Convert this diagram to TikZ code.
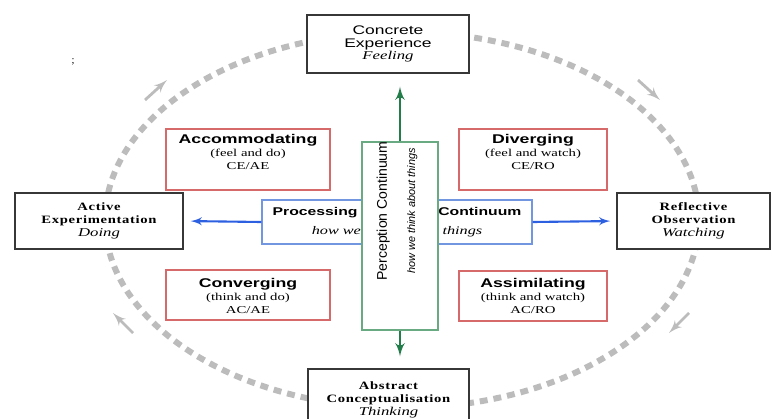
\documentclass[tikz,border=0pt]{standalone}
\usepackage{fontspec}
\setmainfont{Liberation Serif}
\newfontfamily\widesans[FakeStretch=1.4]{Liberation Sans}
\newfontfamily\wideserif[FakeStretch=1.4]{Liberation Serif}
\newfontfamily\spacedserif[FakeStretch=1.3,LetterSpace=6]{Liberation Serif}
\newfontfamily\plainsans{Liberation Sans}
\usetikzlibrary{shapes,arrows}

\definecolor{modegray}{RGB}{55,55,55}
\definecolor{stylered}{RGB}{214,105,105}
\definecolor{procblue}{RGB}{115,150,225}
\definecolor{arrowblue}{RGB}{45,95,225}
\definecolor{percgreen}{RGB}{105,170,130}
\definecolor{arrowgreen}{RGB}{35,125,75}
\definecolor{cyclegray}{RGB}{188,188,188}

\newcommand{\modetitle}{\widesans\fontsize{7.1}{7.3}\selectfont}
\newcommand{\modebold}{\spacedserif\bfseries\fontsize{6.4}{7.3}\selectfont}
\newcommand{\modeword}{\wideserif\mdseries\itshape\fontsize{6.8}{7.3}\selectfont}
\newcommand{\styletitle}{\widesans\bfseries\upshape\fontsize{7.2}{7.2}\selectfont}
\newcommand{\stylesub}{\wideserif\fontsize{6}{7.2}\selectfont}

\tikzstyle{mode} = [rectangle, draw=modegray, line width=0.8pt, fill=white,
align=center, inner sep=0pt, font=\modebold]
\tikzstyle{stylebox} = [rectangle, draw=stylered, line width=0.8pt, fill=white,
inner sep=0pt, minimum height=1.22cm]
\tikzstyle{styletext} = [align=center, inner sep=0pt, font=\stylesub]
\tikzstyle{procbox} = [rectangle, draw=procblue, line width=0.8pt, fill=white,
align=center, inner sep=0pt, minimum width=5.4cm, minimum height=0.88cm,
font=\wideserif\itshape\fontsize{6.6}{10.8}\selectfont]
\tikzstyle{percbox} = [rectangle, draw=percgreen, line width=0.8pt, fill=white,
inner sep=0pt, minimum width=1.52cm, minimum height=3.76cm]
\tikzstyle{line} = [draw, -latex']
\tikzstyle{cyclepath} = [draw=cyclegray, line width=3.4pt, dash pattern=on 4.5pt off 3.4pt]
\tikzstyle{turn} = [draw=cyclegray, line width=1.6pt, -latex']

\begin{document}
\begin{tikzpicture}[x=0.02cm, y=-0.02cm]
		\clip (0,0) rectangle (772,419);
		% learning cycle
		\draw[cyclepath] (402,220) ellipse [x radius=5.94cm, y radius=3.76cm];
		\draw[turn] (145,100) -- (167,80);
		\draw[turn] (638,80) -- (660,100);
		\draw[turn] (689,313) -- (669,333);
		\draw[turn] (133,333) -- (113,313);
		
		% the two continua
		\node [procbox] (proc) at (397,222) {{\styletitle\fontsize{6.4}{10.8}\selectfont Processing\hspace{46pt}Continuum}\\
			how we think about things};
		\node [percbox] (perc) at (400,236) {};
		\node [align=center, inner sep=0pt, rotate=90, font=\plainsans\fontsize{8}{14}\selectfont] (perctext) at (397,211) {Perception Continuum\\[2pt]
			\itshape\fontsize{6.2}{14}\selectfont how we think about things};
		
		% learning styles
		\node [stylebox, minimum width=3.28cm] (accbox) at (248,159.5) {};
		\node [stylebox, minimum width=2.96cm] (divbox) at (533,159.5) {};
		\node [stylebox, minimum width=3.28cm, minimum height=1cm] (conbox) at (248,295) {};
		\node [stylebox, minimum width=2.96cm, minimum height=1cm] (assbox) at (533,296) {};
		\node [styletext] (acc) at (248,152) {{\styletitle Accommodating}\\ (feel and do)\\ CE/AE};
		\node [styletext] (div) at (533,152) {{\styletitle Diverging}\\ (feel and watch)\\ CE/RO};
		\node [styletext] (con) at (248,296) {{\styletitle Converging}\\ (think and do)\\ AC/AE};
		\node [styletext] (ass) at (533,296) {{\styletitle Assimilating}\\ (think and watch)\\ AC/RO};
		
		% learning modes
		\node [mode, font=\modetitle, minimum width=3.24cm, minimum height=1.16cm] (concrete) at (388,44) {Concrete\\ Experience\\ \modeword Feeling};
		\node [mode, minimum width=3.36cm, minimum height=1.12cm] (active) at (99,221) {Active\\ Experimentation\\ \modeword Doing};
		\node [mode, minimum width=3.06cm, minimum height=1.12cm] (reflective) at (693.5,221) {Reflective\\ Observation\\ \modeword Watching};
		\node [mode, minimum width=3.22cm, minimum height=1.24cm] (abstract) at (388.5,400) {Abstract\\ Conceptualisation\\ \modeword Thinking};
		
		\path [line, arrowblue, line width=1.2pt, shorten >=0.14cm] (proc.west) -- (active.east);
		\path [line, arrowblue, line width=1.2pt, shorten >=0.12cm] (proc.east) -- (reflective.west);
		\path [line, arrowgreen, line width=1.6pt, shorten >=0.26cm] (perc.north) -- (perc.north |- concrete.south);
		\path [line, arrowgreen, line width=1.6pt, shorten >=0.24cm] (perc.south) -- (perc.south |- abstract.north);
		
		\node [inner sep=0pt, font=\fontsize{6}{6}\selectfont] (mark) at (73,62) {;};
		\end{tikzpicture}
\end{document}
